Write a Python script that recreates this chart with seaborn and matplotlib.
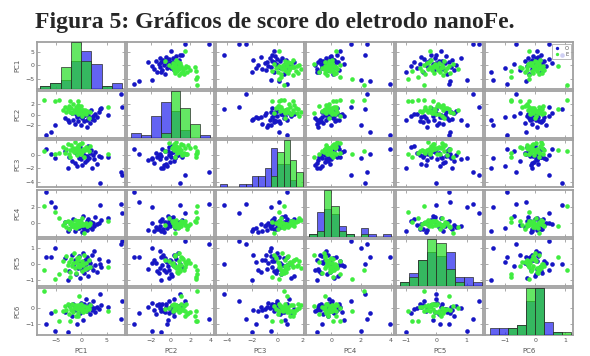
import numpy as np
import pandas as pd
import matplotlib
matplotlib.use("Agg")
import matplotlib.pyplot as plt
from matplotlib.lines import Line2D
import seaborn as sns

# ---------------------------------------------------------------- data
variables = ["PC1", "PC2", "PC3", "PC4", "PC5", "PC6"]
groups = ["O", "E"]

# scores of group "O"
pc1_o = [-3.1, -2.4, -1.8, -1.5, -1.2, -1.0, -0.8, -0.6, -0.4, -0.3, -0.1, 0.1, 0.3, 0.4, 0.6,
         0.8, 0.9, 1.1, 1.2, 1.4, 1.6, 1.7, 1.9, 2.1, 2.3, 2.6, 2.8, 3.1, 3.4, 3.8,
         7.7, 7.9, -6.9, -5.8, -5.2, 3.7, 5.3, -2.5]
pc2_o = [-0.6, -1.4, 0.3, -0.9, -1.7, 0.05, -0.4, -1.1, 0.45, -0.2, -1.9, -0.7, 0.7, -0.3, -1.2,
         -0.05, 0.35, -0.95, -2.3, 0.1, -0.5, -1.5, 0.85, -0.8, -0.15, -1.05, 0.2, -0.45, 0.5, 1.2,
         3.9, 1.5, -3.7, -3.2, -1.9, 1.0, 0.0, -1.0]
pc3_o = [0.5, -0.3, -0.9, 0.8, -1.2, 0.3, -1.7, 0.1, -0.5, 1.1, -0.7, -1.5, 0.0, 0.6, -0.1,
         -1.0, 0.9, -0.25, -0.8, 1.3, -0.45, 0.2, 0.7, -1.9, -0.05, -0.6, 0.4, -1.3, -0.2, -0.4,
         -2.5, -3.0, 0.8, 0.1, -0.5, -4.2, -0.3, -2.0]
pc4_o = [0.1, -0.8, -0.2, 0.55, -0.95, -0.3, -0.6, 0.25, -0.65, 0.2, -0.05, -1.1, -0.45, 0.85, -0.7,
         -0.4, -0.15, 0.3, -0.9, 0.45, -0.25, -0.55, 0.15, -0.75, 0.05, -0.35, 0.7, -0.1, -0.02, 0.4,
         2.4, 1.3, 3.95, 2.6, 2.0, 2.3, 0.6, -1.0]
pc5_o = [0.36, -0.45, 0.57, -0.08, 0.22, -0.65, 0.12, -0.28, 0.47, -0.85, 0.03, -0.35, 0.65, -0.12, -0.55,
         0.27, -0.02, 0.42, -0.32, -0.75, 0.18, 0.08, -0.22, 0.52, -0.4, 0.8, -0.05, -0.5, 0.32, -0.18,
         1.2, 1.4, 0.4, 0.45, 1.0, 0.0, 0.15, -1.0]
pc6_o = [-0.22, 0.2, -0.5, 0.26, -0.1, 0.04, -1.0, 0.14, 0.08, -0.28, 0.35, -0.15, 0.12, -0.7, 0.23,
         -0.04, 0.55, -0.18, 0.06, -0.02, 0.28, -0.35, 0.16, -0.12, 0.45, 0.02, -0.25, 0.1, -0.07, 0.18,
         -0.65, 0.45, -0.95, -0.3, -1.4, 0.9, 0.05, -1.45]

# scores of group "E"
pc1_e = [-3.6, -3.2, -2.9, -2.6, -2.4, -2.1, -1.9, -1.7, -1.6, -1.4, -1.3, -1.1, -1.0, -0.9, -0.7,
         -0.6, -0.5, -0.35, -0.2, -0.1, 0.1, 0.25, 0.4, 0.6, 0.8, 1.0, 1.2, 1.5, 1.8,
         -7.2, -5.1, -4.3, -2.2, -0.6, 5.3]
pc2_e = [0.8, 1.4, 0.45, 1.1, 1.7, 0.6, 1.3, 0.3, 1.95, 0.9, 0.55, 1.5, 0.75, 1.2, 0.1,
         1.8, 0.65, 1.05, 0.35, 1.6, 0.97, -0.2, 0.85, 0.4, 0.93, 0.2, 0.7, -0.6, 0.5,
         2.7, 2.6, 2.7, 2.6, 2.5, 1.5]
pc3_e = [1.2, 0.3, 0.85, 1.6, 0.05, 0.7, 1.45, 0.62, 0.92, 0.4, 1.85, 0.97, 0.55, -0.1, 1.05,
         1.35, 0.25, 0.75, 1.55, 0.15, 0.45, 1.7, 0.8, -0.3, 0.68, 1.1, 0.88, 0.6, 1.25,
         0.5, 0.1, 0.3, -0.4, 1.2, 0.1]
pc4_e = [-0.3, 0.15, -0.45, 0.32, -0.8, -0.06, 0.1, -0.37, -0.15, -0.48, 0.4, -0.21, -0.6, -0.02, 0.25,
         -0.34, -0.12, -0.42, 0.2, -0.27, -0.04, 0.6, -0.24, -1.2, -0.09, 0.03, -0.4, -0.18, 0.07,
         2.2, 1.4, 0.6, 0.1, 0.3, 0.3]
pc5_e = [0.2, -0.37, 0.46, -0.09, 0.11, -0.48, 0.29, -0.16, 0.05, 0.7, -0.28, 0.14, -0.55, 0.34, -0.03,
         0.23, -0.22, 0.4, -0.13, 0.02, -0.42, 0.17, -0.06, 0.55, -0.32, 0.08, -0.25, 0.26, -0.19,
         -0.4, -0.95, -0.6, -0.8, -0.1, -0.2]
pc6_e = [-0.2, 0.13, -0.08, 0.23, -0.35, 0.05, -0.12, 0.29, -0.26, 0.01, 0.19, -0.45, 0.09, -0.04, 0.21,
         -0.28, 0.15, 0.75, -0.06, 0.26, -0.15, 0.03, -0.23, 0.11, -0.1, -0.18, 0.07, -0.02, 0.17,
         1.05, -0.2, -0.8, -0.8, -0.5, -0.2]

scores = pd.concat([
    pd.DataFrame({"PC1": pc1_o, "PC2": pc2_o, "PC3": pc3_o, "PC4": pc4_o,
                  "PC5": pc5_o, "PC6": pc6_o, "grupo": "O"}),
    pd.DataFrame({"PC1": pc1_e, "PC2": pc2_e, "PC3": pc3_e, "PC4": pc4_e,
                  "PC5": pc5_e, "PC6": pc6_e, "grupo": "E"}),
], ignore_index=True)

# ---------------------------------------------------------------- layout
limits = {"PC1": (-8.6, 8.5), "PC2": (-4.4, 4.4), "PC3": (-4.8, 2.1),
          "PC4": (-1.7, 4.2), "PC5": (-1.35, 1.55), "PC6": (-1.65, 1.25)}
xticks = {"PC1": [-5, 0, 5], "PC2": [-2, 0, 2, 4], "PC3": [-4, -2, 0, 2],
          "PC4": [0, 2, 4], "PC5": [-1, 0, 1], "PC6": [-1, 0, 1]}
yticks = {"PC1": [-5, 0, 5], "PC2": [-2, 0, 2], "PC3": [-4, -2, 0],
          "PC4": [0, 2], "PC5": [-1, 0, 1], "PC6": [-1, 0]}
bin_edges = {"PC1": np.linspace(-8, 8, 9), "PC2": np.linspace(-4, 4, 9),
             "PC3": np.linspace(-4.5, 2.0, 14), "PC4": np.linspace(-1.5, 4.0, 12),
             "PC5": np.linspace(-1.2, 1.5, 10), "PC6": np.linspace(-1.5, 1.2, 10)}

point_colors = {"O": "#1616c4", "E": "#40ec40"}
bar_colors = {"O": "#1010ee", "E": "#22dd22"}
bar_alpha = {"O": 0.65, "E": 0.7}

sns.set_theme(style="white")
plt.rcParams["font.family"] = ["DejaVu Sans"]

fig, axes = plt.subplots(6, 6, figsize=(5.9, 3.56), dpi=100)
fig.subplots_adjust(left=0.063, right=0.971, top=0.882, bottom=0.059,
                    wspace=0.025, hspace=0.045)

frame_color = "#a0a0a0"
label_color = "#555555"

for i, yv in enumerate(variables):
    for j, xv in enumerate(variables):
        ax = axes[i, j]
        if i == j:
            # histogram on its own count scale; "O" first, "E" layered on top
            hax = ax.twinx()
            for g in groups:
                sub = scores[scores["grupo"] == g]
                sns.histplot(x=sub[xv], bins=bin_edges[xv], color=bar_colors[g],
                             alpha=bar_alpha[g], edgecolor="#2a2a2a", linewidth=0.5,
                             ax=hax)
            hax.set_ylim(0, max(p.get_height() for p in hax.patches))
            hax.set_yticks([])
            hax.set_ylabel("")
            hax.set_xlabel("")
            for s in hax.spines.values():
                s.set_visible(False)
        else:
            for g in groups:
                sub = scores[scores["grupo"] == g]
                sns.scatterplot(x=sub[xv], y=sub[yv], color=point_colors[g], s=11,
                                linewidth=0, ax=ax)
        ax.set_xlim(limits[xv])
        ax.set_ylim(limits[yv])
        ax.set_xticks(xticks[xv])
        ax.set_yticks(yticks[yv])
        ax.set_xlabel("")
        ax.set_ylabel("")
        ax.tick_params(direction="in", length=2, width=0.5, color="#888888",
                       labelsize=4.5, labelcolor=label_color, pad=2,
                       top=True, right=True, bottom=True, left=True,
                       labelleft=(j == 0), labelbottom=(i == 5))
        for s in ax.spines.values():
            s.set_color(frame_color)
            s.set_linewidth(1.3)
        if j == 0:
            ax.set_ylabel(yv, fontsize=5, color=label_color)
            ax.yaxis.set_label_coords(-0.19, 0.5)
        if i == 5:
            ax.set_xlabel(xv, fontsize=5, color=label_color)
            ax.xaxis.set_label_coords(0.5, -0.27)

handles = [Line2D([], [], marker="o", linestyle="none", markersize=2.4,
                  markerfacecolor=point_colors[g], markeredgewidth=0) for g in groups]
leg = axes[0, 5].legend(handles, groups, loc="upper right", fontsize=3.8,
                        frameon=True, fancybox=False, edgecolor="#999999",
                        borderpad=0.35, handlelength=1.2, handletextpad=0.9,
                        labelspacing=0.25, borderaxespad=0.35)
leg.get_frame().set_linewidth(0.6)
for t in leg.get_texts():
    t.set_color(label_color)

fig.text(0.466, 0.92, "Figura 5: Gráficos de score do eletrodo nanoFe.",
         ha="center", va="baseline", fontsize=17, fontweight="bold",
         family=["Liberation Serif", "DejaVu Serif"])

fig.savefig("out.png", dpi=100, facecolor="white")
